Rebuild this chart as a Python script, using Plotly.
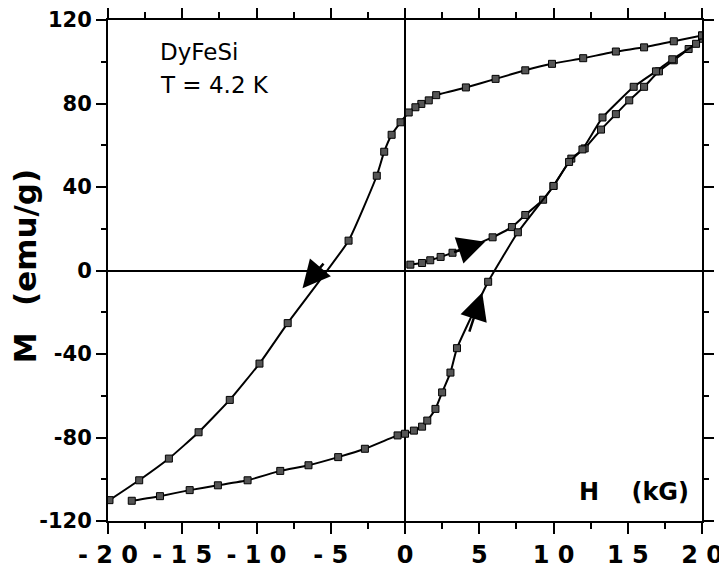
import plotly.graph_objects as go

# Virgin curve (starting at H=0)
virgin_h = [0.36, 1.15, 1.7, 2.4, 3.2, 5.9, 7.2, 8.1, 9.3, 10.0, 11.2, 12.1, 13.2, 14.2, 15.1, 16.1, 17.1, 18.1, 19.1, 20.0]
virgin_m = [2.8, 3.6, 4.9, 6.5, 8.5, 15.9, 20.8, 26.6, 33.9, 40.5, 53.6, 58.5, 67.5, 74.9, 81.5, 88.0, 95.4, 100.7, 106.1, 111.0]

# Descending branch (+20 -> -20 kG)
desc_h = [20.0, 18.1, 16.1, 14.2, 12.0, 9.9, 8.1, 6.1, 4.1, 2.1, 1.6, 1.1, 0.7, 0.25, -0.3, -0.9, -1.4, -1.9, -3.8, -7.9, -9.8, -11.8, -13.9, -15.9, -17.9, -19.9]
desc_m = [112.6, 109.8, 106.9, 104.9, 101.7, 99.0, 95.9, 91.8, 87.7, 84.0, 81.5, 79.8, 78.2, 75.7, 71.0, 65.0, 56.9, 45.4, 14.3, -25.2, -44.6, -62.0, -77.5, -90.1, -100.5, -110.0]

# Ascending branch (-20 -> +20 kG)
asc_h = [-18.4, -16.5, -14.5, -12.6, -10.6, -8.4, -6.5, -4.5, -2.7, -0.5, 0.0, 0.6, 1.15, 1.5, 2.05, 2.5, 3.06, 3.5, 5.6, 7.6, 10.0, 11.05, 11.95, 13.3, 15.4, 16.9, 18.0, 19.6, 20.0]
asc_m = [-110.3, -108.1, -105.2, -102.9, -100.5, -96.0, -93.3, -89.4, -85.4, -79.0, -78.2, -76.7, -74.8, -71.9, -66.3, -58.4, -48.9, -37.2, -5.4, 18.3, 40.5, 52.0, 58.0, 73.3, 88.0, 95.4, 101.2, 108.6, 112.6]

# Direction arrows: (tail_h, tail_m, head_h, head_m)
arrows = [
    (3.2, 8.6, 5.4, 13.8),
    (-5.4, 4.0, -6.9, -8.5),
    (4.3, -30.0, 5.2, -10.5),
]

x_tickvals = [-20, -15, -10, -5, 0, 5, 10, 15, 20]
x_ticktext = ["- 2 0", "- 1 5", "- 1 0", "- 5", "0", "5", "1 0", "1 5", "2 0"]
y_tickvals = [-120, -80, -40, 0, 40, 80, 120]
y_ticktext = ["-120", "-80", "-40", "0", "40", "80", "120"]

FONT = "DejaVu Sans, Verdana, sans-serif"

fig = go.Figure()
marker = dict(symbol="square", size=7, color="#555555", line=dict(color="black", width=1))
for hx, my in [(virgin_h, virgin_m), (desc_h, desc_m), (asc_h, asc_m)]:
    fig.add_trace(go.Scatter(
        x=hx, y=my, mode="lines+markers",
        line=dict(color="black", width=2, shape="spline", smoothing=0.4),
        marker=marker, showlegend=False, hoverinfo="skip"))

for (th, tm, hh, hm) in arrows:
    fig.add_annotation(x=hh, y=hm, ax=th, ay=tm, xref="x", yref="y", axref="x", ayref="y",
                       text="", showarrow=True, arrowhead=2, arrowsize=2.2, arrowwidth=2.5,
                       arrowcolor="black")

fig.add_annotation(x=-16.6, y=104.5, xref="x", yref="y", text="DyFeSi", showarrow=False,
                   xanchor="left", yanchor="middle", font=dict(family=FONT, size=23, color="black"))
fig.add_annotation(x=-16.6, y=89.0, xref="x", yref="y", text="T = 4.2 K", showarrow=False,
                   xanchor="left", yanchor="middle", font=dict(family=FONT, size=23, color="black"))
fig.add_annotation(x=15.4, y=-106, xref="x", yref="y", text="<b>H\u2003 (kG)</b>", showarrow=False,
                   xanchor="center", yanchor="middle", font=dict(family=FONT, size=24, color="black"))
fig.add_annotation(x=-0.14, y=2, xref="paper", yref="y", text="<b>M\u2002 (emu/g)</b>",
                   showarrow=False, textangle=-90, xanchor="center", yanchor="middle",
                   font=dict(family=FONT, size=31, color="black"))

fig.update_xaxes(
    range=[-20, 20], tickvals=x_tickvals, ticktext=x_ticktext, automargin=False,
    ticks="outside", ticklen=11, tickwidth=2, tickcolor="black",
    minor=dict(dtick=2.5, tick0=0, ticks="outside", ticklen=6, tickwidth=2, tickcolor="black"),
    showline=True, linecolor="black", linewidth=2, mirror="allticks",
    showgrid=False, zeroline=True, zerolinecolor="black", zerolinewidth=2,
    tickfont=dict(family=FONT, size=24, color="black", weight="bold"),
)
fig.update_yaxes(
    range=[-120, 120], tickvals=y_tickvals, ticktext=y_ticktext, automargin=False,
    ticks="outside", ticklen=10, tickwidth=2, tickcolor="black",
    minor=dict(dtick=20, tick0=0, ticks="outside", ticklen=5, tickwidth=2, tickcolor="black"),
    showline=True, linecolor="black", linewidth=2, mirror="allticks",
    showgrid=False, zeroline=True, zerolinecolor="black", zerolinewidth=2,
    tickfont=dict(family=FONT, size=21, color="black", weight="bold"),
)
fig.update_layout(
    width=727, height=573,
    margin=dict(l=100, r=33, t=12, b=60),
    paper_bgcolor="white", plot_bgcolor="white",
    font=dict(family=FONT, color="black"),
)
fig.write_html("out.html")
